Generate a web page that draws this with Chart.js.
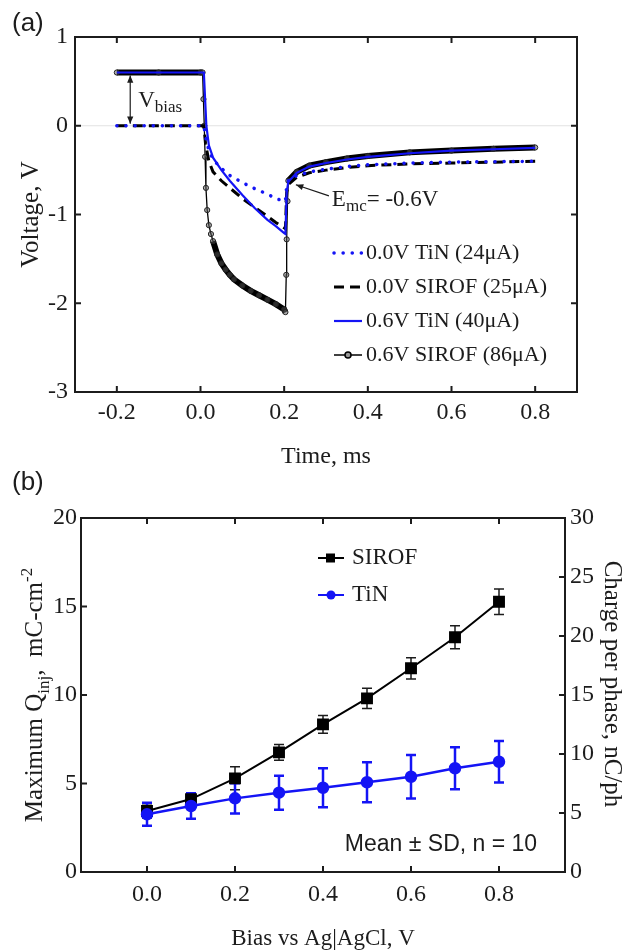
<!DOCTYPE html>
<html>
<head>
<meta charset="utf-8">
<script src="https://cdn.jsdelivr.net/npm/chart.js@4.4.0/dist/chart.umd.min.js"></script>
<style>
  html, body { margin: 0; padding: 0; background: #fff; }
  #wrapA { position: absolute; left: 0; top: 0; width: 626px; height: 470px; }
  #wrapB { position: absolute; left: 0; top: 470px; width: 626px; height: 482px; }
</style>
</head>
<body>
<div id="wrapA"><canvas id="chartA" width="626" height="470"></canvas></div>
<div id="wrapB"><canvas id="chartB" width="626" height="482"></canvas></div>
<script>
// ---- panel (a): voltage transients ----
const timeTicks = [-0.2, 0, 0.2, 0.4, 0.6, 0.8];
const voltTicks = [1, 0, -1, -2, -3];
const namesA = ["0.0V TiN (24\u03bcA)", "0.0V SIROF (25\u03bcA)", "0.6V TiN (40\u03bcA)", "0.6V SIROF (86\u03bcA)"];

// 0.0 V bias curves (shared time base)
const time0 = [-0.2, -0.1, 0, 0.008, 0.012, 0.02, 0.03, 0.05, 0.07, 0.1, 0.13, 0.16, 0.18, 0.2, 0.203, 0.206, 0.21, 0.23, 0.26, 0.3, 0.35, 0.4, 0.5, 0.6, 0.7, 0.8];
const tin0V = [0, 0, 0, 0, -0.12, -0.28, -0.38, -0.48, -0.56, -0.64, -0.71, -0.77, -0.82, -0.85, -0.85, -0.68, -0.62, -0.56, -0.52, -0.49, -0.46, -0.44, -0.42, -0.41, -0.405, -0.40];
const sirof0V = [0, 0, 0, 0, -0.2, -0.4, -0.52, -0.62, -0.70, -0.82, -0.92, -1.02, -1.09, -1.15, -1.16, -0.75, -0.66, -0.58, -0.53, -0.50, -0.47, -0.45, -0.43, -0.42, -0.41, -0.40];

// 0.6 V bias, TiN
const tin6T = [-0.2, -0.1, 0, 0.008, 0.011, 0.014, 0.02, 0.03, 0.05, 0.07, 0.1, 0.13, 0.16, 0.18, 0.2, 0.203, 0.206, 0.21, 0.23, 0.26, 0.3, 0.35, 0.4, 0.5, 0.6, 0.7, 0.8];
const tin6V = [0.6, 0.6, 0.6, 0.6, 0.3, 0.0, -0.22, -0.36, -0.50, -0.62, -0.78, -0.93, -1.06, -1.13, -1.21, -1.22, -0.75, -0.63, -0.53, -0.46, -0.42, -0.38, -0.35, -0.31, -0.28, -0.265, -0.25];

// 0.6 V bias, SIROF
const sirof6T = [-0.2, -0.1, 0, 0.005, 0.007, 0.009, 0.011, 0.013, 0.016, 0.02, 0.025, 0.03, 0.04, 0.05, 0.06, 0.07, 0.08, 0.1, 0.12, 0.14, 0.16, 0.18, 0.2, 0.203, 0.205, 0.206, 0.208, 0.21, 0.23, 0.26, 0.3, 0.35, 0.4, 0.5, 0.6, 0.7, 0.8];
const sirof6V = [0.6, 0.6, 0.6, 0.6, 0.3, 0.0, -0.35, -0.7, -0.95, -1.12, -1.22, -1.30, -1.45, -1.55, -1.62, -1.68, -1.73, -1.80, -1.86, -1.91, -1.96, -2.01, -2.07, -2.10, -1.68, -1.28, -0.85, -0.62, -0.52, -0.45, -0.41, -0.37, -0.34, -0.30, -0.28, -0.26, -0.245];

// ---- panel (b): max charge injection vs bias ----
const biasLevels = [0, 0.1, 0.2, 0.3, 0.4, 0.5, 0.6, 0.7, 0.8];
const sirofQ = [3.45, 4.12, 5.29, 6.76, 8.34, 9.81, 11.51, 13.26, 15.27];
const sirofSD = [0.4, 0.3, 0.65, 0.45, 0.5, 0.57, 0.6, 0.65, 0.72];
const tinQ = [3.26, 3.73, 4.16, 4.48, 4.76, 5.07, 5.38, 5.86, 6.23];
const tinSD = [0.65, 0.72, 0.85, 0.96, 1.1, 1.13, 1.23, 1.19, 1.17];
const biasTicks = [0, 0.2, 0.4, 0.6, 0.8];
const qTicks = [0, 5, 10, 15, 20];
const chargeTicks = [0, 5, 10, 15, 20, 25, 30];

const BLUE = "#1414f5";
const INK = "#1c1c1c";
const SERIF = '"Liberation Serif", "Times New Roman", serif';
const SANS = '"Liberation Sans", Arial, sans-serif';

const pts = (xs, ys) => xs.map((x, i) => ({ x: x, y: ys[i] }));
const setTicks = (arr) => (s) => { s.ticks = arr.map(v => ({ value: v })); };

// text with sub/superscript pieces, centred on (x, y)
function richText(ctx, parts, x, y, angle, size, family) {
  ctx.save();
  ctx.translate(x, y);
  ctx.rotate(angle);
  const fontOf = p => (p.sub || p.sup ? Math.round(size * 0.68) : size) + "px " + family;
  let w = 0;
  parts.forEach(p => { ctx.font = fontOf(p); w += ctx.measureText(p.t).width; });
  let cx = -w / 2;
  ctx.fillStyle = INK;
  ctx.textAlign = "left";
  ctx.textBaseline = "alphabetic";
  parts.forEach(p => {
    ctx.font = fontOf(p);
    const dy = p.sub ? size * 0.25 : p.sup ? -size * 0.42 : 0;
    ctx.fillText(p.t, cx, size * 0.33 + dy);
    cx += ctx.measureText(p.t).width;
  });
  ctx.restore();
}

function arrowHead(ctx, x0, y0, x1, y1, len) {
  const a = Math.atan2(y1 - y0, x1 - x0);
  ctx.beginPath();
  ctx.moveTo(x1, y1);
  ctx.lineTo(x1 - len * Math.cos(a - 0.4), y1 - len * Math.sin(a - 0.4));
  ctx.lineTo(x1 - len * Math.cos(a + 0.4), y1 - len * Math.sin(a + 0.4));
  ctx.closePath();
  ctx.fill();
}

// box frame with inward ticks on all four sides
function drawFrame(chart, xs, yl, yr) {
  const ctx = chart.ctx, a = chart.chartArea, L = 6;
  ctx.save();
  ctx.strokeStyle = INK;
  ctx.lineWidth = 2;
  ctx.strokeRect(a.left, a.top, a.right - a.left, a.bottom - a.top);
  ctx.beginPath();
  xs.ticks.forEach(t => {
    const x = xs.getPixelForValue(t.value);
    ctx.moveTo(x, a.bottom); ctx.lineTo(x, a.bottom - L);
    ctx.moveTo(x, a.top); ctx.lineTo(x, a.top + L);
  });
  yl.ticks.forEach(t => {
    const y = yl.getPixelForValue(t.value);
    ctx.moveTo(a.left, y); ctx.lineTo(a.left + L, y);
  });
  (yr || yl).ticks.forEach(t => {
    const y = (yr || yl).getPixelForValue(t.value);
    ctx.moveTo(a.right, y); ctx.lineTo(a.right - L, y);
  });
  ctx.stroke();
  ctx.restore();
}

const tickFont = { family: SERIF, size: 24 };

// ---------------- chart (a) ----------------
const panelA = {
  id: "panelA",
  beforeDatasetsDraw(chart) {
    const ctx = chart.ctx, a = chart.chartArea, y = chart.scales.y;
    ctx.save();
    ctx.strokeStyle = "#e2e2e2";
    ctx.lineWidth = 1;
    ctx.beginPath();
    ctx.moveTo(a.left, y.getPixelForValue(0));
    ctx.lineTo(a.right, y.getPixelForValue(0));
    ctx.stroke();
    ctx.restore();
  },
  afterDraw(chart) {
    const ctx = chart.ctx, xs = chart.scales.x, ys = chart.scales.y;
    drawFrame(chart, xs, ys, null);

    richText(ctx, [{ t: "Voltage, V" }], 30, 214.5, -Math.PI / 2, 25, SERIF);
    richText(ctx, [{ t: "Time, ms" }], 326, 455, 0, 24, SERIF);
    ctx.save();
    ctx.font = "26px " + SANS;
    ctx.fillStyle = INK;
    ctx.textBaseline = "middle";
    ctx.fillText("(a)", 12, 24);
    ctx.restore();

    // V_bias double arrow
    ctx.save();
    ctx.strokeStyle = INK; ctx.fillStyle = INK; ctx.lineWidth = 1.2;
    const bx = xs.getPixelForValue(-0.168);
    const bTop = ys.getPixelForValue(0.6) + 3, bBot = ys.getPixelForValue(0) - 2;
    ctx.beginPath(); ctx.moveTo(bx, bTop); ctx.lineTo(bx, bBot); ctx.stroke();
    arrowHead(ctx, bx, bBot, bx, bTop, 8);
    arrowHead(ctx, bx, bTop, bx, bBot, 8);
    ctx.restore();
    ctx.save();
    ctx.fillStyle = INK; ctx.textBaseline = "alphabetic";
    ctx.font = "23px " + SERIF;
    const vx = bx + 8, vy = ys.getPixelForValue(0.29) + 7;
    ctx.fillText("V", vx, vy);
    const vw = ctx.measureText("V").width;
    ctx.font = "17px " + SERIF;
    ctx.fillText("bias", vx + vw, vy + 5);
    ctx.restore();

    // E_mc arrow
    ctx.save();
    ctx.strokeStyle = INK; ctx.fillStyle = INK; ctx.lineWidth = 1.2;
    const hx = xs.getPixelForValue(0.228), hy = ys.getPixelForValue(-0.665);
    const tx = xs.getPixelForValue(0.307), ty = ys.getPixelForValue(-0.79);
    ctx.beginPath(); ctx.moveTo(tx, ty); ctx.lineTo(hx, hy); ctx.stroke();
    arrowHead(ctx, tx, ty, hx, hy, 8);
    ctx.textBaseline = "alphabetic";
    ctx.font = "23px " + SERIF;
    const ex = xs.getPixelForValue(0.314), ey = ys.getPixelForValue(-0.81) + 8;
    ctx.fillText("E", ex, ey);
    let ew = ctx.measureText("E").width;
    ctx.font = "17px " + SERIF;
    ctx.fillText("mc", ex + ew, ey + 5);
    ew += ctx.measureText("mc").width;
    ctx.font = "23px " + SERIF;
    ctx.fillText("= -0.6V", ex + ew, ey);
    ctx.restore();

    // legend
    const order = [1, 2, 0, 3];
    ctx.save();
    order.forEach((di, k) => {
      const ds = chart.data.datasets[di];
      const y = 253 + k * 34;
      ctx.strokeStyle = ds.borderColor;
      ctx.lineWidth = di === 3 ? 1.5 : ds.borderWidth;
      ctx.lineCap = ds.borderCapStyle || "butt";
      ctx.setLineDash(ds.borderDash || []);
      ctx.beginPath(); ctx.moveTo(334, y); ctx.lineTo(362, y); ctx.stroke();
      ctx.setLineDash([]);
      if (di === 3) {
        ctx.fillStyle = "#999";
        ctx.beginPath(); ctx.arc(348, y, 3, 0, Math.PI * 2); ctx.fill(); ctx.stroke();
      }
      ctx.fillStyle = INK;
      ctx.font = "22px " + SERIF;
      ctx.textBaseline = "middle";
      ctx.fillText(ds.label, 366, y);
    });
    ctx.restore();
  }
};

new Chart(document.getElementById("chartA"), {
  type: "line",
  data: {
    datasets: [
      { label: namesA[2], data: pts(tin6T, tin6V), borderColor: BLUE, borderWidth: 2.2, pointRadius: 0, order: 0 },
      { label: namesA[0], data: pts(time0, tin0V), borderColor: BLUE, borderWidth: 3.5, borderDash: [0.1, 9], borderCapStyle: "round", pointRadius: 0, order: 1 },
      { label: namesA[1], data: pts(time0, sirof0V), borderColor: "#000", borderWidth: 3, borderDash: [10, 6], pointRadius: 0, order: 2 },
      {
        label: namesA[3], data: pts(sirof6T, sirof6V), borderColor: "#000", borderWidth: 6,
        segment: {
          borderWidth: c => Math.abs((c.p1.parsed.y - c.p0.parsed.y) / (c.p1.parsed.x - c.p0.parsed.x)) > 15 ? 1.3 : 6
        },
        pointRadius: 2.6, pointBorderWidth: 1, pointBorderColor: "#222", pointBackgroundColor: "rgba(90,90,90,0.5)", order: 3
      }
    ]
  },
  options: {
    responsive: false,
    animation: false,
    layout: { padding: { left: 0, right: 49, top: 37, bottom: 0 } },
    elements: { line: { tension: 0 } },
    scales: {
      x: {
        type: "linear", min: -0.3, max: 0.9,
        afterBuildTicks: setTicks(timeTicks),
        afterFit: s => { s.height = 78; },
        grid: { display: false, drawTicks: false },
        border: { display: false },
        ticks: { font: tickFont, color: INK, padding: 6, maxRotation: 0, callback: v => v.toFixed(1) }
      },
      y: {
        type: "linear", min: -3, max: 1,
        afterBuildTicks: setTicks(voltTicks),
        afterFit: s => { s.width = 75; },
        grid: { display: false, drawTicks: false },
        border: { display: false },
        ticks: { font: tickFont, color: INK, padding: 7, callback: v => String(v) }
      }
    },
    plugins: { legend: { display: false }, tooltip: { enabled: false } }
  },
  plugins: [panelA]
});

// ---------------- chart (b) ----------------
const panelB = {
  id: "panelB",
  beforeDatasetsDraw(chart) {
    const ctx = chart.ctx, xs = chart.scales.x, ys = chart.scales.y;
    const sets = [
      { q: sirofQ, sd: sirofSD, color: INK, w: 1.5 },
      { q: tinQ, sd: tinSD, color: BLUE, w: 2.5 }
    ];
    ctx.save();
    sets.forEach(s => {
      ctx.strokeStyle = s.color;
      ctx.lineWidth = s.w;
      ctx.beginPath();
      biasLevels.forEach((b, i) => {
        const x = xs.getPixelForValue(b);
        const yHi = ys.getPixelForValue(s.q[i] + s.sd[i]);
        const yLo = ys.getPixelForValue(s.q[i] - s.sd[i]);
        ctx.moveTo(x, yHi); ctx.lineTo(x, yLo);
        ctx.moveTo(x - 5, yHi); ctx.lineTo(x + 5, yHi);
        ctx.moveTo(x - 5, yLo); ctx.lineTo(x + 5, yLo);
      });
      ctx.stroke();
    });
    ctx.restore();
  },
  afterDraw(chart) {
    const ctx = chart.ctx;
    drawFrame(chart, chart.scales.x, chart.scales.y, chart.scales.y2);

    richText(ctx, [{ t: "Maximum Q" }, { t: "inj", sub: true }, { t: ",  mC-cm" }, { t: "-2", sup: true }], 34, 225, -Math.PI / 2, 25, SERIF);
    richText(ctx, [{ t: "Charge per phase, nC/ph" }], 613, 214, Math.PI / 2, 25, SERIF);
    richText(ctx, [{ t: "Bias vs Ag|AgCl, V" }], 323, 467, 0, 23, SERIF);
    ctx.save();
    ctx.font = "26px " + SANS;
    ctx.fillStyle = INK;
    ctx.textBaseline = "middle";
    ctx.fillText("(b)", 12, 13);
    ctx.font = "23px " + SANS;
    ctx.textAlign = "center";
    ctx.fillText("Mean \u00b1 SD, n = 10", 441, 375);
    ctx.restore();

    // legend
    ctx.save();
    chart.data.datasets.slice().reverse().forEach((ds, k) => {
      const y = 88 + k * 37;
      ctx.strokeStyle = ds.borderColor;
      ctx.fillStyle = ds.borderColor;
      ctx.lineWidth = 2;
      ctx.beginPath(); ctx.moveTo(318, y); ctx.lineTo(344, y); ctx.stroke();
      if (ds.pointStyle === "rect") ctx.fillRect(326, y - 4.5, 9, 9);
      else { ctx.beginPath(); ctx.arc(331, y, 4.5, 0, Math.PI * 2); ctx.fill(); }
      ctx.fillStyle = INK;
      ctx.font = "23px " + SERIF;
      ctx.textBaseline = "middle";
      ctx.fillText(ds.label, 352, y);
    });
    ctx.restore();
  }
};

new Chart(document.getElementById("chartB"), {
  type: "line",
  data: {
    datasets: [
      { label: "TiN", data: pts(biasLevels, tinQ), borderColor: BLUE, backgroundColor: BLUE, borderWidth: 2.5, pointStyle: "circle", pointRadius: 5, pointBackgroundColor: BLUE, pointBorderColor: BLUE, yAxisID: "y", order: 0 },
      { label: "SIROF", data: pts(biasLevels, sirofQ), borderColor: "#000", backgroundColor: "#000", borderWidth: 2, pointStyle: "rect", pointRadius: 7, pointBackgroundColor: "#000", pointBorderColor: "#000", yAxisID: "y", order: 1 }
    ]
  },
  options: {
    responsive: false,
    animation: false,
    layout: { padding: { left: 0, right: 0, top: 48, bottom: 0 } },
    elements: { line: { tension: 0 } },
    scales: {
      x: {
        type: "linear", min: -0.15, max: 0.95,
        afterBuildTicks: setTicks(biasTicks),
        afterFit: s => { s.height = 80; },
        grid: { display: false, drawTicks: false },
        border: { display: false },
        ticks: { font: tickFont, color: INK, padding: 8, maxRotation: 0, callback: v => v.toFixed(1) }
      },
      y: {
        type: "linear", position: "left", min: 0, max: 20,
        afterBuildTicks: setTicks(qTicks),
        afterFit: s => { s.width = 81; },
        grid: { display: false, drawTicks: false },
        border: { display: false },
        ticks: { font: tickFont, color: INK, padding: 4, callback: v => String(v) }
      },
      y2: {
        type: "linear", position: "right", min: 0, max: 30,
        afterBuildTicks: setTicks(chargeTicks),
        afterFit: s => { s.width = 61; },
        grid: { display: false, drawTicks: false },
        border: { display: false },
        ticks: { font: tickFont, color: INK, padding: 5, callback: v => String(v) }
      }
    },
    plugins: { legend: { display: false }, tooltip: { enabled: false } }
  },
  plugins: [panelB]
});
</script>
</body>
</html>
